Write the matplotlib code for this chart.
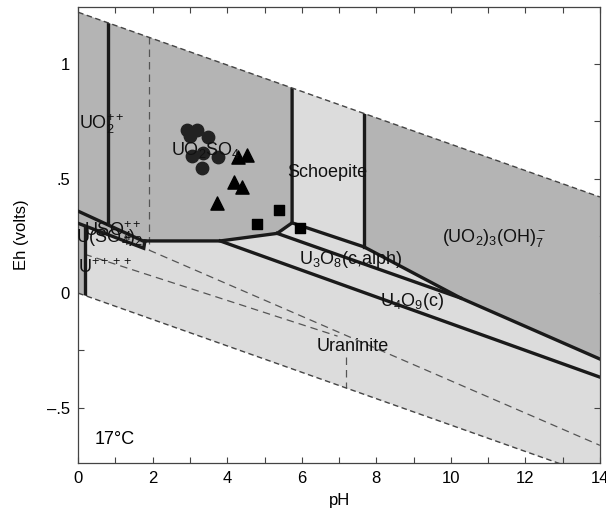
import matplotlib
matplotlib.use("Agg")
import matplotlib.pyplot as plt
import numpy as np
from matplotlib.patches import Polygon

plt.rcParams["font.family"] = ["Liberation Sans", "DejaVu Sans"]
plt.rcParams["mathtext.fontset"] = "custom"
plt.rcParams["mathtext.rm"] = "Liberation Sans"
plt.rcParams["mathtext.it"] = "Liberation Sans"

# water stability limits (pH, Eh)
water_upper = [(0.0, 1.227), (14.0, 0.42)]
water_lower = [(0.0, 0.0), (14.0, -0.807)]

# dark-shaded aqueous fields (clipped to the water window)
dark_left = [(0.0, 2.0), (5.74, 2.0), (5.74, 0.307), (5.34, 0.261), (3.81, 0.228),
             (1.79, 0.228), (1.76, 0.196), (0.17, 0.294), (0.17, -0.05), (0.0, -0.05)]
dark_right = [(7.67, 2.0), (14.0, 2.0), (14.0, -0.288), (10.27, -0.022), (7.67, 0.202)]

# thick field boundaries
boundaries = [
    [(0.8, 0.31), (0.8, 1.3)],
    [(0.0, 0.358), (1.79, 0.224)],
    [(0.0, 0.305), (1.76, 0.196), (1.79, 0.228)],
    [(0.17, -0.05), (0.17, 0.294)],
    [(1.79, 0.228), (3.81, 0.228), (5.34, 0.261), (5.74, 0.307), (5.74, 1.3)],
    [(3.81, 0.228), (14.0, -0.367)],
    [(5.34, 0.261), (10.27, -0.022)],
    [(5.74, 0.307), (7.67, 0.202), (10.27, -0.022), (14.0, -0.288)],
    [(7.67, 0.202), (7.67, 1.3)],
]

# thin dashed sulphur-species lines
sulfur_lines = [
    [(1.9, 1.3), (1.9, 0.188)],
    [(1.9, 0.188), (14.0, -0.665)],
    [(0.17, 0.17), (6.96, -0.188)],
    [(7.18, -0.28), (7.18, -0.45)],
]

# sample points
circ_ph = [2.91, 3.18, 3.00, 3.49, 3.05, 3.36, 3.76, 3.32]
circ_eh = [0.712, 0.712, 0.686, 0.683, 0.600, 0.610, 0.595, 0.545]
tri_ph = [4.30, 4.53, 4.17, 4.39, 3.72]
tri_eh = [0.595, 0.603, 0.486, 0.464, 0.392]
sq_ph = [4.80, 5.38, 5.96]
sq_eh = [0.304, 0.362, 0.283]

# field labels: text, pH, Eh, alignment
labels = [
    (r"UO$_2^{++}$", 0.02, 0.74, "left"),
    (r"UO$_2$SO$_4$", 3.43, 0.625, "center"),
    ("Schoepite", 6.69, 0.528, "center"),
    (r"(UO$_2$)$_3$(OH)$_7^-$", 11.16, 0.24, "center"),
    (r"U$_3$O$_8$(c,alph)", 7.32, 0.148, "center"),
    (r"U$_4$O$_9$(c)", 8.95, -0.035, "center"),
    ("Uraninite", 7.37, -0.231, "center"),
    (r"USO$_4^{++}$", 0.15, 0.27, "left"),
    (r"U(SO$_4$)$_2$", -0.05, 0.245, "left"),
    (r"U$^{++++}$", 0.0, 0.11, "left"),
]

dark = "#b4b4b4"
light = "#dcdcdc"

fig = plt.figure(figsize=(6.06, 5.15), dpi=100)
ax = fig.add_axes([0.129, 0.101, 0.861, 0.885])

water = Polygon(water_upper + water_lower[::-1], closed=True,
                facecolor=light, edgecolor="none", zorder=1)
ax.add_patch(water)
for pts in (dark_left, dark_right):
    p = Polygon(pts, closed=True, facecolor=dark, edgecolor="none", zorder=2)
    ax.add_patch(p)
    p.set_clip_path(water)

for seg in sulfur_lines:
    x, y = zip(*seg)
    ln, = ax.plot(x, y, color="#555555", lw=0.9, ls=(0, (6, 4)), zorder=3)
    ln.set_clip_path(water)

for seg in boundaries:
    x, y = zip(*seg)
    ln, = ax.plot(x, y, color="#1a1a1a", lw=2.4, solid_joinstyle="miter", zorder=4)
    ln.set_clip_path(water)

for seg in (water_upper, water_lower):
    x, y = zip(*seg)
    ax.plot(x, y, color="#444444", lw=1.0, ls=(0, (4, 2.5)), zorder=5)

ax.scatter(circ_ph, circ_eh, s=80, marker="o", color="#222222", zorder=6)
ax.scatter(tri_ph, tri_eh, s=90, marker="^", color="#000000", zorder=6)
ax.scatter(sq_ph, sq_eh, s=60, marker="s", color="#000000", zorder=6)

for txt, x, y, ha in labels:
    ax.text(x, y, txt, fontsize=13, color="#111111", ha=ha, va="center", zorder=7)

ax.text(0.45, -0.64, "17°C", fontsize=13, ha="left", va="center")

ax.set_xlim(0, 14)
ax.set_ylim(-0.742, 1.249)
ax.set_xticks(np.arange(0, 15, 1))
ax.set_xticklabels([str(v) if v % 2 == 0 else "" for v in range(15)])
ax.set_yticks([-0.5, -0.25, 0, 0.25, 0.5, 0.75, 1.0])
ax.set_yticklabels(["\u2013.5", "", "0", "", ".5", "", "1"])
ax.tick_params(direction="in", top=True, right=True, length=4, width=0.8,
               labelsize=12, color="#444444", pad=6)
for s in ax.spines.values():
    s.set_color("#444444")
    s.set_linewidth(0.9)

ax.set_xlabel("pH", fontsize=12, labelpad=5)
ax.set_ylabel("Eh (volts)", fontsize=12, labelpad=13)

fig.savefig("out.png", dpi=100)
